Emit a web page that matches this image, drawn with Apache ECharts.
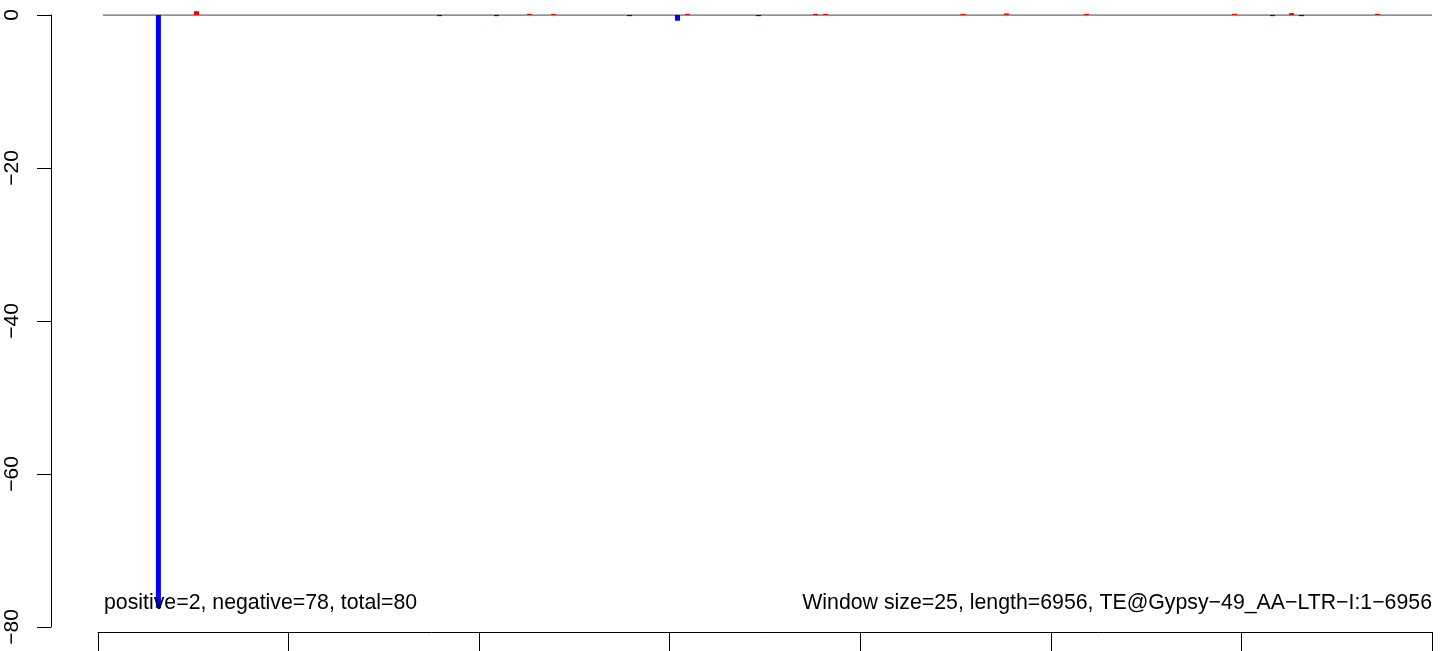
<!DOCTYPE html>
<html>
<head>
<meta charset="utf-8">
<script src="https://cdn.jsdelivr.net/npm/echarts@6/dist/echarts.min.js"></script>
<style>
html,body{margin:0;padding:0;background:#fff;}
#chart{width:1444px;height:651px;}
</style>
</head>
<body>
<div id="chart"></div>
<script>
// window positions (bp) and window values
const positions = [317, 517, 1792, 2091, 2264, 2390, 2789, 3041, 3093, 3466, 3765, 3817, 4539, 4767, 5187, 5964, 6163, 6263, 6315, 6714];
const values    = [-77.5, 0.5, -0.15, -0.15, 0.15, 0.15, -0.15, -0.75, 0.15, -0.15, 0.15, 0.15, 0.15, 0.2, 0.15, 0.15, -0.15, 0.25, -0.15, 0.15];
const yTicks = [-80, -60, -40, -20, 0];
const xTicks = [0, 1000, 2000, 3000, 4000, 5000, 6000, 7000];
const zeroLine = [[26, 0], [7000, 0]];
const leftText = 'positive=2, negative=78, total=80';
const rightText = 'Window size=25, length=6956, TE@Gypsy\u221249_AA\u2212LTR\u2212I:1\u22126956';

const FONT = '"Liberation Sans", Arial, Helvetica, sans-serif';
const chart = echarts.init(document.getElementById('chart'), null, {renderer: 'canvas'});

const barData = positions.map((p, i) => ({
  value: [p, values[i]],
  itemStyle: {color: values[i] >= 0 ? '#FF0000' : '#0000FF'}
}));

chart.setOption({
  animation: false,
  backgroundColor: '#ffffff',
  grid: {left: 98, right: 12, top: 15, bottom: 24, containLabel: false},
  xAxis: {
    type: 'value',
    min: xTicks[0], max: xTicks[xTicks.length - 1], interval: 1000,
    offset: 5,
    axisLine: {show: true, onZero: false, lineStyle: {color: '#000', width: 1}},
    axisTick: {show: true, length: 25, lineStyle: {color: '#000', width: 1}},
    axisLabel: {show: false},
    splitLine: {show: false}
  },
  yAxis: {
    type: 'value',
    min: yTicks[0], max: yTicks[yTicks.length - 1], interval: 20,
    offset: 47,
    axisLine: {show: true, onZero: false, lineStyle: {color: '#000', width: 1}},
    axisTick: {show: true, length: 14, lineStyle: {color: '#000', width: 1}},
    axisLabel: {
      show: true, rotate: 90, margin: 28,
      color: '#000', fontSize: 21, fontFamily: FONT,
      formatter: v => (v < 0 ? '\u2212' + Math.abs(v) : String(v))
    },
    splitLine: {show: false}
  },
  series: [
    {
      type: 'line',
      data: zeroLine,
      symbol: 'none',
      silent: true,
      z: 1,
      lineStyle: {color: '#6e6e6e', width: 1.5}
    },
    {
      type: 'bar',
      data: barData,
      barWidth: 5,
      clip: false,
      z: 3,
      silent: true
    }
  ],
  graphic: [
    {
      type: 'text', left: 104, top: 593, z: 10,
      style: {text: leftText, fontSize: 21.3, fontFamily: FONT, fill: '#000'}
    },
    {
      type: 'text', right: 12, top: 593, z: 10,
      style: {text: rightText, fontSize: 21.3, fontFamily: FONT, fill: '#000'}
    }
  ]
});
</script>
</body>
</html>
